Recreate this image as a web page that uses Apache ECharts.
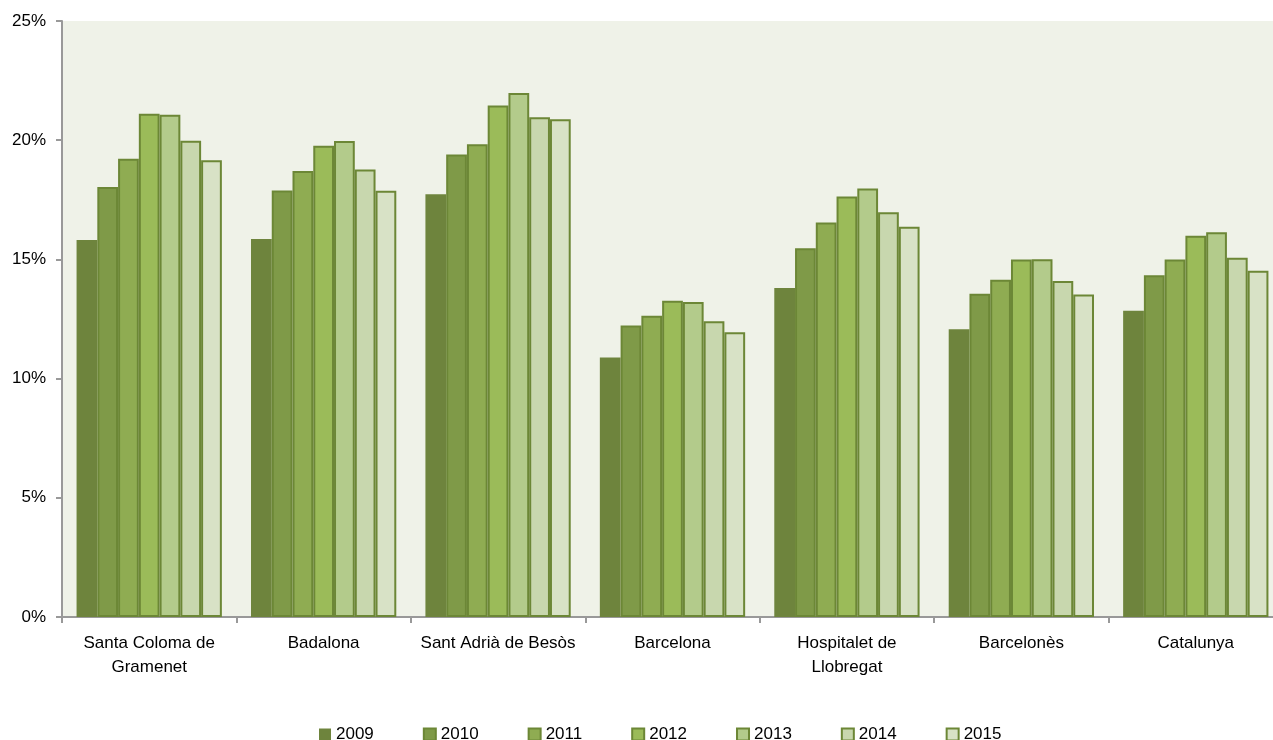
<!DOCTYPE html>
<html>
<head>
<meta charset="utf-8">
<script src="https://cdn.jsdelivr.net/npm/echarts@6/dist/echarts.min.js"></script>
<style>
html,body{margin:0;padding:0;background:#fff;overflow:hidden;}
#chart{width:1283px;height:740px;}
</style>
</head>
<body>
<div id="chart"></div>
<script>
var categories = ["Santa Coloma de\nGramenet", "Badalona", "Sant Adrià de Besòs", "Barcelona", "Hospitalet de\nLlobregat", "Barcelonès", "Catalunya"];
var years = ["2009", "2010", "2011", "2012", "2013", "2014", "2015"];
var v2009 = [15.81, 15.86, 17.73, 10.88, 13.80, 12.07, 12.85];
var v2010 = [18.04, 17.89, 19.40, 12.23, 15.47, 13.56, 14.34];
var v2011 = [19.22, 18.71, 19.83, 12.64, 16.55, 14.15, 15.00];
var v2012 = [21.11, 19.77, 21.46, 13.27, 17.64, 15.00, 15.99];
var v2013 = [21.07, 19.97, 21.98, 13.21, 17.97, 15.01, 16.14];
var v2014 = [19.98, 18.77, 20.96, 12.41, 16.98, 14.09, 15.07];
var v2015 = [19.16, 17.88, 20.88, 11.94, 16.37, 13.53, 14.52];
var yTicks = [0, 5, 10, 15, 20, 25];

var seriesValues = [v2009, v2010, v2011, v2012, v2013, v2014, v2015];
var fills = ['#6E843D', '#7F9A48', '#8FAC52', '#9BBB59', '#B3CB8B', '#C8D7AE', '#D8E2C6'];
var borderCol = '#6C8736';
var FONT = 'Liberation Sans';

var series = years.map(function (y, i) {
  return {
    name: y,
    type: 'bar',
    data: seriesValues[i],
    barGap: '0%',
    barCategoryGap: '16.7%',
    itemStyle: {
      color: fills[i],
      borderColor: i === 0 ? fills[0] : borderCol,
      borderWidth: i === 0 ? 0 : 2
    },
    emphasis: {disabled: true}
  };
});

var chart = echarts.init(document.getElementById('chart'));
chart.setOption({
  animation: false,
  backgroundColor: '#ffffff',
  textStyle: {fontFamily: FONT},
  grid: {
    left: 62, top: 21, bottom: 123, right: 0,
    show: true, backgroundColor: '#EFF2E8', borderWidth: 0
  },
  legend: {
    data: years,
    left: 314, top: 721,
    icon: 'rect',
    itemWidth: 12, itemHeight: 12, itemGap: 49,
    textStyle: {fontSize: 17, color: '#000', fontFamily: FONT}
  },
  xAxis: {
    type: 'category',
    data: categories,
    axisLine: {lineStyle: {color: '#999999', width: 2}},
    axisTick: {show: true, length: 6, lineStyle: {color: '#999999', width: 2}},
    axisLabel: {fontSize: 17, color: '#000', lineHeight: 24, margin: 14, fontFamily: FONT, interval: 0}
  },
  yAxis: {
    type: 'value',
    min: yTicks[0], max: yTicks[yTicks.length - 1], interval: 5,
    splitLine: {show: false},
    axisLine: {show: true, lineStyle: {color: '#999999', width: 2}},
    axisTick: {show: true, length: 6, lineStyle: {color: '#999999', width: 2}},
    axisLabel: {fontSize: 17, color: '#000', margin: 16, fontFamily: FONT, formatter: '{value}%'}
  },
  series: series
});
</script>
</body>
</html>
